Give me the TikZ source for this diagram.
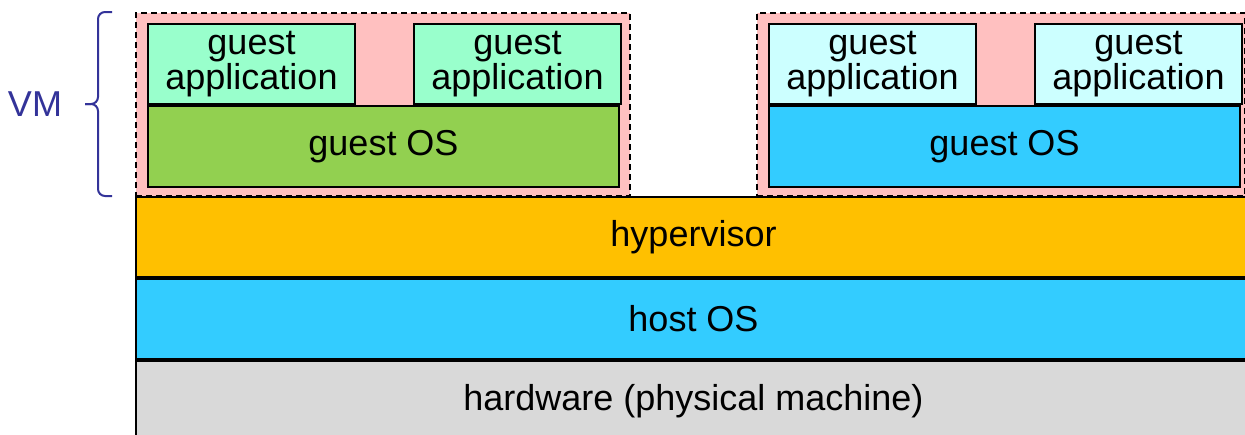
\documentclass[tikz,border=0pt]{standalone}
\usepackage{fontspec}
\setmainfont{Liberation Sans}
\usetikzlibrary{positioning}
\definecolor{appgreen}{HTML}{99FFCC}
\definecolor{osgreen}{HTML}{92D050}
\definecolor{appcyan}{HTML}{CCFFFF}
\definecolor{osblue}{HTML}{33CCFF}
\definecolor{vmpink}{HTML}{FFC0C0}
\definecolor{hyporange}{HTML}{FFC000}
\definecolor{hwgray}{HTML}{D9D9D9}
\definecolor{vmblue}{HTML}{333399}
\tikzstyle{vmbox} = [rectangle, draw, fill=vmpink, line width=1.5pt,
    dash pattern=on 6pt off 4pt, anchor=north west, inner sep=0pt,
    minimum height=183pt]
\tikzstyle{app} = [rectangle, draw, line width=2pt, align=center,
    anchor=north west, inner sep=0pt, minimum width=207pt, minimum height=80pt]
\tikzstyle{guestos} = [rectangle, draw, line width=2pt, anchor=north west,
    inner sep=0pt, minimum width=471pt, minimum height=81pt]
\tikzstyle{layer} = [rectangle, draw, line width=2pt, inner sep=0pt,
    minimum width=1115pt, minimum height=80pt]
\tikzstyle{vmbrace} = [draw=vmblue, line width=2pt, rounded corners=7pt]

\begin{document}
\begin{tikzpicture}[x=1pt, y=-1pt, every node/.style={font=\fontsize{36}{33}\selectfont}]
  \useasboundingbox (0,0) rectangle (1245,434);
  \clip (0,0) rectangle (1245,434);

  % layers under the VMs
  \node [layer, fill=hyporange, anchor=north west] (hyp) at (135,196) {hypervisor};
  \node [layer, fill=osblue, below=0pt of hyp] (host) {host OS};
  \node [layer, fill=hwgray, below=0pt of host] (hw) {hardware (physical machine)};

  % first VM
  \node [vmbox, minimum width=494pt] (vm1) at (135,12) {};
  \node [app, fill=appgreen] (app1) at (147,23) {guest\\application};
  \node [app, fill=appgreen, right=57pt of app1] (app2) {guest\\application};
  \node [guestos, fill=osgreen] (os1) at (app1.south west) {guest OS};

  % second VM
  \node [vmbox, minimum width=488pt] (vm2) at (756,12) {};
  \node [app, fill=appcyan] (app3) at (768,23) {guest\\application};
  \node [app, fill=appcyan, right=57pt of app3] (app4) {guest\\application};
  \node [guestos, fill=osblue] (os2) at (app3.south west) {guest OS};

  % brace for the VM label
  \path [vmbrace] (112,12) -- (98,12) -- (98,104) -- (85,104);
  \path [vmbrace] (112,196) -- (98,196) -- (98,104) -- (85,104);
  \node [text=vmblue] (vm) at (35,104) {VM};
\end{tikzpicture}
\end{document}
